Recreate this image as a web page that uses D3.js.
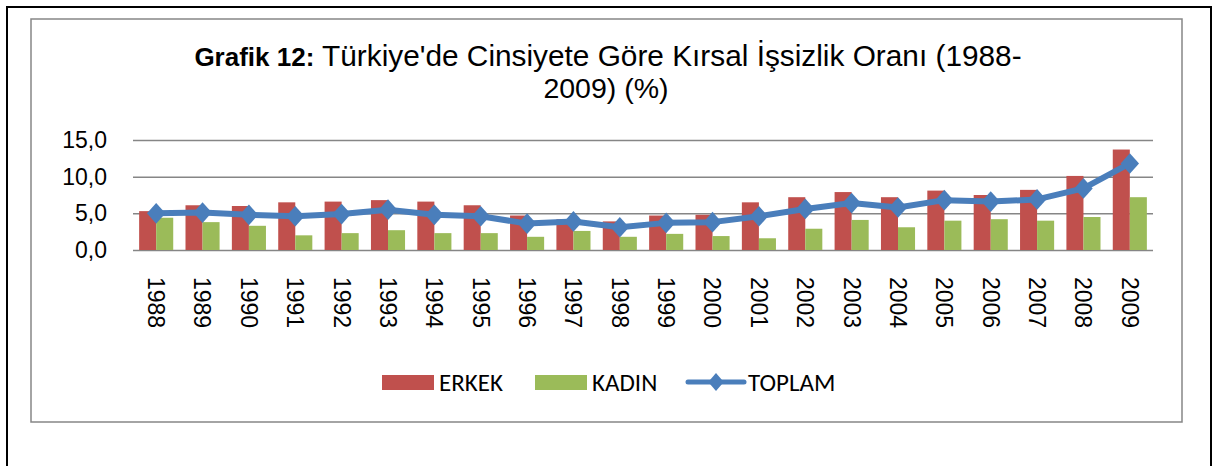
<!DOCTYPE html>
<html>
<head>
<meta charset="utf-8">
<script src="https://cdn.jsdelivr.net/npm/d3@7"></script>
<style>
  body { margin: 0; background: #fff; }
  svg { display: block; }
</style>
</head>
<body>
<div id="graph"></div>
<script>
// veriler
let yillar = ["1988","1989","1990","1991","1992","1993","1994","1995","1996","1997","1998",
              "1999","2000","2001","2002","2003","2004","2005","2006","2007","2008","2009"];
let erkek  = [5.3, 6.1, 6.0, 6.5, 6.6, 6.8, 6.6, 6.1, 4.7, 4.2, 3.9, 4.7, 4.8, 6.5, 7.2, 7.9, 7.2, 8.1, 7.5, 8.2, 10.1, 13.7];
let kadin  = [4.4, 3.8, 3.3, 2.0, 2.3, 2.7, 2.3, 2.3, 1.8, 2.6, 1.8, 2.2, 1.9, 1.6, 2.9, 4.1, 3.1, 4.0, 4.2, 4.0, 4.5, 7.2];
let toplam = [5.0, 5.1, 4.8, 4.6, 4.9, 5.5, 4.8, 4.6, 3.6, 3.9, 3.1, 3.7, 3.8, 4.6, 5.6, 6.4, 5.8, 6.8, 6.6, 6.9, 8.4, 11.8];
let yTicks = [0, 5, 10, 15];
let seriler = ["ERKEK", "KADIN", "TOPLAM"];

let renk = { ERKEK: "#C0504D", KADIN: "#9BBB59", TOPLAM: "#4A7EBB" };

var svgWidth = 1217;
var svgHeight = 466;

var svg = d3.select("#graph")
  .append("svg")
  .attr("width", svgWidth)
  .attr("height", svgHeight);

// cerceveler
svg.append("rect")
  .attr("x", 7).attr("y", 7)
  .attr("width", 1204).attr("height", 520)
  .attr("fill", "none").attr("stroke", "#000").attr("stroke-width", 2);

svg.append("rect")
  .attr("x", 31).attr("y", 19)
  .attr("width", 1151).attr("height", 403)
  .attr("fill", "#fff").attr("stroke", "#868686").attr("stroke-width", 1.5);

// baslik
var baslik = svg.append("text")
  .attr("x", 608).attr("y", 66)
  .attr("text-anchor", "middle")
  .style("font-family", "'Liberation Sans', Arial, sans-serif")
  .style("font-size", "29.8px")
  .attr("fill", "#000");
baslik.append("tspan").style("font-weight", "bold").style("font-size", "26px").text("Grafik 12:");
baslik.append("tspan").text(" Türkiye'de Cinsiyete Göre Kırsal İşsizlik Oranı (1988-");

svg.append("text")
  .attr("x", 606).attr("y", 98)
  .attr("text-anchor", "middle")
  .style("font-family", "'Liberation Sans', Arial, sans-serif")
  .style("font-size", "28.5px")
  .text("2009) (%)");

// olcekler
var xScale = d3.scaleBand()
  .domain(yillar)
  .range([133, 1153]);

var x1 = d3.scaleBand()
  .domain(["ERKEK", "KADIN"])
  .range([0, xScale.bandwidth()])
  .paddingOuter(0.36);

var yScale = d3.scaleLinear()
  .domain([0, 15])
  .range([250, 140]);

var trFormat = d3.formatLocale({ decimal: ",", thousands: ".", grouping: [3], currency: ["", " TL"] }).format(".1f");

// y ekseni + izgara
var leftAxis = d3.axisLeft(yScale)
  .tickValues(yTicks)
  .tickSize(-(1153 - 133))
  .tickPadding(26)
  .tickFormat(trFormat);

var yG = svg.append("g")
  .attr("transform", "translate(133,0)")
  .call(leftAxis);
yG.select(".domain").remove();
yG.selectAll(".tick line").attr("stroke", "#868686").attr("stroke-width", 1.5);
yG.selectAll("text")
  .style("font-family", "'Liberation Sans', Arial, sans-serif")
  .style("font-size", "23px")
  .attr("fill", "#000");

// cubuklar
var gruplar = svg.append("g").selectAll("g")
  .data(yillar)
  .enter().append("g")
  .attr("transform", d => `translate(${xScale(d)},0)`);

gruplar.selectAll("rect")
  .data((d, i) => [{ seri: "ERKEK", v: erkek[i] }, { seri: "KADIN", v: kadin[i] }])
  .enter().append("rect")
  .attr("x", d => x1(d.seri))
  .attr("y", d => yScale(d.v))
  .attr("width", x1.bandwidth())
  .attr("height", d => yScale(0) - yScale(d.v))
  .attr("fill", d => renk[d.seri]);

// toplam cizgisi
var drawLine = d3.line()
  .x((d, i) => xScale(yillar[i]) + xScale.bandwidth() / 2)
  .y(d => yScale(d));

svg.append("path")
  .attr("d", drawLine(toplam))
  .attr("fill", "none")
  .attr("stroke", renk.TOPLAM)
  .attr("stroke-width", 6)
  .attr("stroke-linejoin", "round");

var elmas = d3.symbol().type(d3.symbolSquare).size(170);

svg.append("g").selectAll("path")
  .data(toplam)
  .enter().append("path")
  .attr("d", elmas)
  .attr("transform", (d, i) => `translate(${xScale(yillar[i]) + xScale.bandwidth() / 2},${yScale(d)}) scale(1,1.12) rotate(45)`)
  .attr("fill", renk.TOPLAM);

// x ekseni etiketleri
var bottomAxis = d3.axisBottom(xScale).tickSize(0);
var xG = svg.append("g")
  .attr("transform", "translate(0,250)")
  .call(bottomAxis);
xG.select(".domain").remove();
xG.selectAll("text")
  .attr("transform", "rotate(90)")
  .attr("x", 27)
  .attr("y", 0)
  .attr("dy", "0.35em")
  .style("text-anchor", "start")
  .style("font-family", "'Liberation Sans', Arial, sans-serif")
  .style("font-size", "23px")
  .attr("fill", "#000");

// lejant
var lejant = svg.append("g")
  .style("font-family", "Carlito, Lato, sans-serif")
  .style("font-size", "25px");

var lejantX = { ERKEK: 382, KADIN: 535, TOPLAM: 688 };

seriler.forEach(function (s) {
  var g = lejant.append("g").attr("transform", `translate(${lejantX[s]},382)`);
  if (s == "TOPLAM") {
    g.append("line")
      .attr("x1", 0).attr("x2", 56).attr("y1", 0).attr("y2", 0)
      .attr("stroke", renk[s]).attr("stroke-width", 5).attr("stroke-linecap", "round");
    g.append("path")
      .attr("d", d3.symbol().type(d3.symbolSquare).size(120)())
      .attr("transform", "translate(28,0) scale(1,1.15) rotate(45)")
      .attr("fill", renk[s]);
    g.append("text").attr("x", 60).attr("y", 9).text(s);
  } else {
    g.append("rect")
      .attr("x", 0).attr("y", -7).attr("width", 52).attr("height", 15)
      .attr("fill", renk[s]);
    g.append("text").attr("x", 57).attr("y", 9).text(s);
  }
});
</script>
</body>
</html>
